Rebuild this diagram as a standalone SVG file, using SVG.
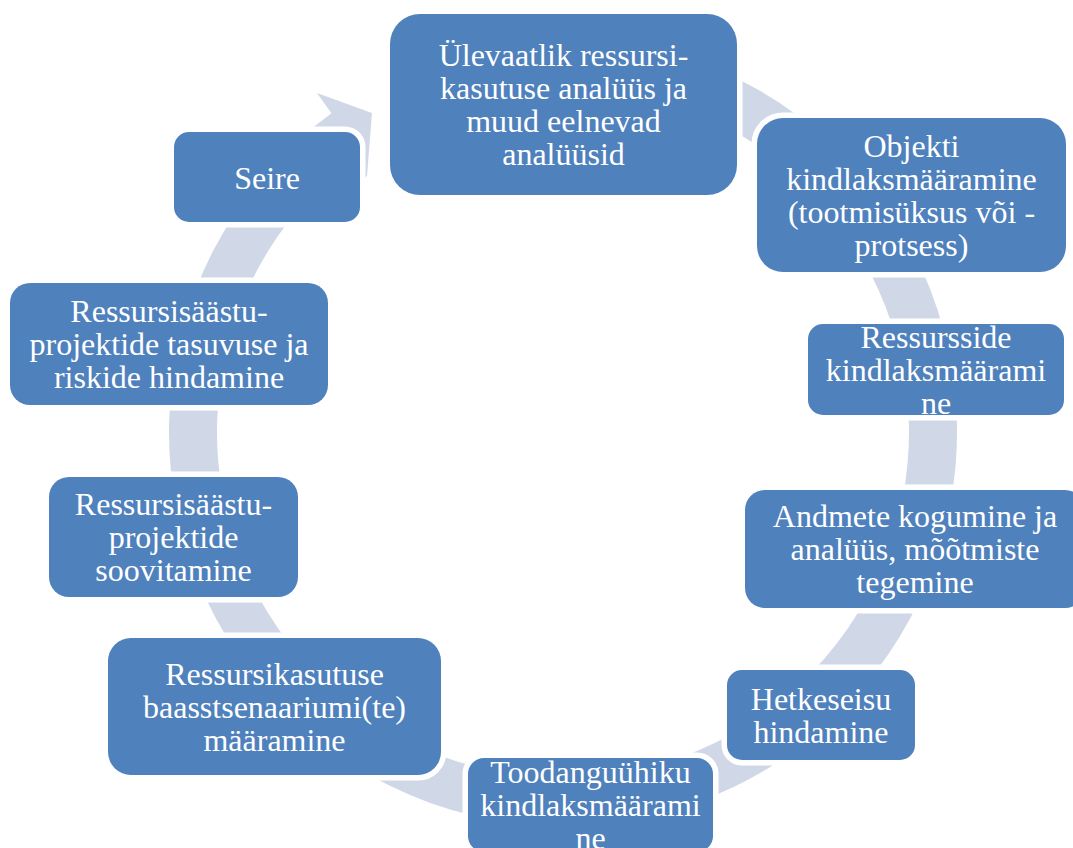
<svg xmlns="http://www.w3.org/2000/svg" width="1073" height="848" viewBox="0 0 1073 848">
<style>
.box{fill:#4F81BD;stroke:#FFFFFF;stroke-width:11;paint-order:stroke}
.t{font-family:"Liberation Serif","Times New Roman",serif;font-size:32px;fill:#FFFFFF;text-anchor:middle}
.ring{fill:#D0D8E8;stroke:none}
</style>
<rect width="1073" height="848" fill="#FFFFFF"/>
<g id="connectors">
<path class="ring" d="M631.42,43.98 A394,394 0 1 1 331.41,113.25 L317,93 L372,113 L367,176 L355,186 L359.62,152.08 A346,346 0 1 0 623.08,91.26 Z"/>
</g>
<g id="n1">
<rect class="box" x="390" y="14" width="347" height="181" rx="30"/>
<text class="t" x="563.5"><tspan x="563.5" y="66">Ülevaatlik ressursi-</tspan><tspan x="563.5" y="99">kasutuse analüüs ja</tspan><tspan x="563.5" y="132">muud eelnevad</tspan><tspan x="563.5" y="165">analüüsid</tspan></text>
</g>
<g id="n2">
<rect class="box" x="757" y="118" width="309" height="154" rx="26"/>
<text class="t"><tspan x="911.5" y="156.5">Objekti</tspan><tspan x="911.5" y="189.5">kindlaksmääramine</tspan><tspan x="911.5" y="222.5">(tootmisüksus või -</tspan><tspan x="911.5" y="255.5">protsess)</tspan></text>
</g>
<g id="n3">
<rect class="box" x="808" y="324" width="256" height="91" rx="15"/>
<text class="t"><tspan x="936" y="347.5">Ressursside</tspan><tspan x="936" y="380.5">kindlaksmäärami</tspan><tspan x="936" y="413.5">ne</tspan></text>
</g>
<g id="n4">
<rect class="box" x="745" y="490" width="340" height="118" rx="20"/>
<text class="t"><tspan x="915" y="527">Andmete kogumine ja</tspan><tspan x="915" y="560">analüüs, mõõtmiste</tspan><tspan x="915" y="593">tegemine</tspan></text>
</g>
<g id="n5">
<rect class="box" x="727" y="670" width="188" height="90" rx="15"/>
<text class="t"><tspan x="821" y="709.5">Hetkeseisu</tspan><tspan x="821" y="742.5">hindamine</tspan></text>
</g>
<g id="n6">
<rect class="box" x="468" y="758" width="245" height="94" rx="16"/>
<text class="t"><tspan x="590.5" y="783">Toodanguühiku</tspan><tspan x="590.5" y="816">kindlaksmäärami</tspan><tspan x="590.5" y="849">ne</tspan></text>
</g>
<g id="n7">
<rect class="box" x="108" y="638" width="333" height="137" rx="23"/>
<text class="t"><tspan x="274.5" y="684.5">Ressursikasutuse</tspan><tspan x="274.5" y="717.5">baasstsenaariumi(te)</tspan><tspan x="274.5" y="750.5">määramine</tspan></text>
</g>
<g id="n8">
<rect class="box" x="49" y="477" width="249" height="120" rx="20"/>
<text class="t"><tspan x="173.5" y="515">Ressursisäästu-</tspan><tspan x="173.5" y="548">projektide</tspan><tspan x="173.5" y="581">soovitamine</tspan></text>
</g>
<g id="n9">
<rect class="box" x="10" y="283" width="318" height="122" rx="20"/>
<text class="t"><tspan x="169" y="322">Ressursisäästu-</tspan><tspan x="169" y="355">projektide tasuvuse ja</tspan><tspan x="169" y="388">riskide hindamine</tspan></text>
</g>
<g id="n10">
<rect class="box" x="174" y="132" width="186" height="90" rx="15"/>
<text class="t" x="267" y="188.5">Seire</text>
</g>
</svg>
